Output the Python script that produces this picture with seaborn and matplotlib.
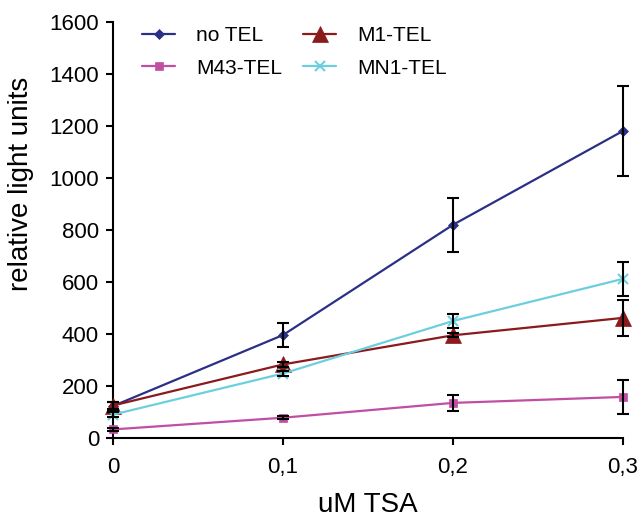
import matplotlib
matplotlib.use("Agg")
import matplotlib.pyplot as plt
import seaborn as sns
import pandas as pd

# ---- data ----
tsa = [0.0, 0.1, 0.2, 0.3]
x_tick_labels = ["0", "0,1", "0,2", "0,3"]
series_names = ["no TEL", "M43-TEL", "M1-TEL", "MN1-TEL"]
no_tel = [123, 396, 820, 1181]
no_tel_err = [15, 45, 105, 172]
m43_tel = [33, 78, 135, 158]
m43_tel_err = [5, 6, 32, 65]
m1_tel = [125, 283, 395, 462]
m1_tel_err = [12, 10, 8, 70]
mn1_tel = [90, 248, 450, 612]
mn1_tel_err = [10, 10, 28, 65]

values = [no_tel, m43_tel, m1_tel, mn1_tel]
errors = [no_tel_err, m43_tel_err, m1_tel_err, mn1_tel_err]
colors = ["#2B3087", "#C04FA3", "#8A1A1C", "#6CCFDF"]
markers = ["D", "s", "^", "x"]
msizes = [5, 6, 11, 7]

sns.set_theme(style="ticks")
plt.rcParams["font.family"] = ["Liberation Sans", "DejaVu Sans"]
plt.rcParams["text.color"] = "black"
plt.rcParams["axes.labelcolor"] = "black"

fig = plt.figure(figsize=(6.39, 5.22), dpi=100)
ax = fig.add_axes([113 / 639, 1 - 438 / 522, (623 - 113) / 639, (438 - 22) / 522])

for name, v, e, c, m, ms in zip(series_names, values, errors, colors, markers, msizes):
    df = pd.DataFrame({"x": tsa, "y": v})
    sns.lineplot(data=df, x="x", y="y", color=c, marker=m, markersize=ms,
                 markeredgecolor=c, markeredgewidth=1.5 if m == "x" else 0.5,
                 linewidth=1.6, label=name, ax=ax, zorder=3, clip_on=False)
    eb = ax.errorbar(tsa, v, yerr=e, fmt="none", ecolor="black", elinewidth=1.5,
                     capsize=4, capthick=1.5, zorder=4)
    for art in eb.lines[1] + eb.lines[2]:
        art.set_clip_on(False)

ax.set_xlim(0, 0.3)
ax.set_ylim(0, 1600)
ax.set_xticks(tsa)
ax.set_xticklabels(x_tick_labels)
ax.set_yticks(range(0, 1601, 200))
ax.tick_params(axis="both", labelsize=16, length=5, width=1.5, direction="out",
               colors="black", pad=5)
ax.tick_params(axis="x", pad=9)
for s in ["top", "right"]:
    ax.spines[s].set_visible(False)
for s in ["left", "bottom"]:
    ax.spines[s].set_linewidth(1.5)
    ax.spines[s].set_color("black")

ax.set_xlabel("uM TSA", fontsize=20)
ax.set_ylabel("relative light units", fontsize=20)
ax.yaxis.set_label_coords(-0.155, 0.61)
ax.xaxis.set_label_coords(0.5, -0.13)

ax.legend(loc="upper left", bbox_to_anchor=(0.02, 1.035), ncol=2, frameon=False,
          fontsize=15, handlelength=1.6, columnspacing=1.0, labelspacing=0.65,
          handletextpad=1.0)

fig.savefig("out.png", dpi=100)
